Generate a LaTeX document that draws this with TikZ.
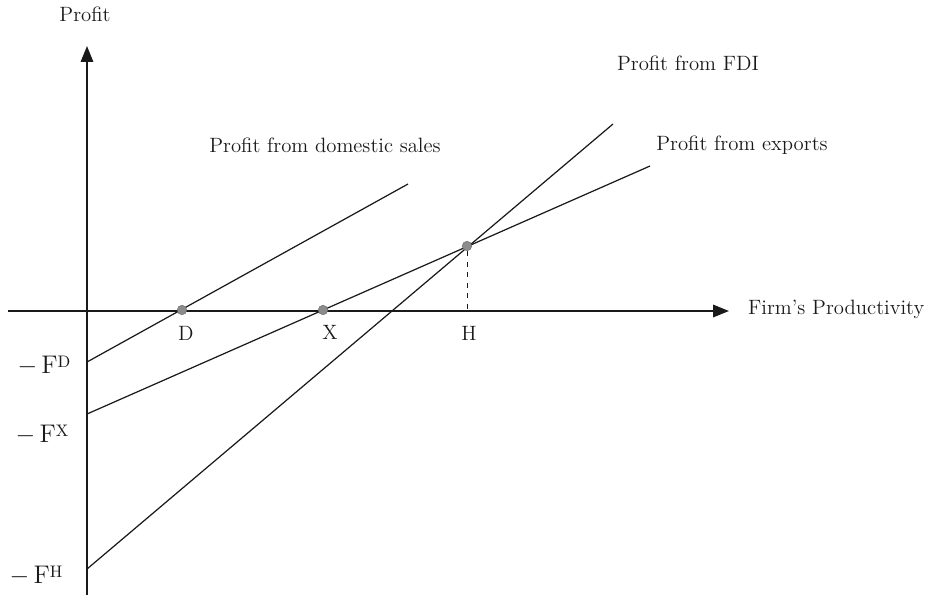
\documentclass[tikz,border=0pt]{standalone}
\usepackage{tikz}
\usetikzlibrary{positioning, arrows.meta}
\definecolor{pInk}{HTML}{1A1A1A}
\definecolor{pDot}{HTML}{8C8C8C}
\newcommand{\negF}[1]{$-$\,F{\fontsize{9.5}{10}\selectfont\raisebox{3.6pt}{#1}}}
\tikzset{
  axis/.style={line width=1.1pt, draw=pInk, -{Triangle[length=9pt,width=7pt]}},
  curve/.style={line width=0.7pt, draw=pInk},
  dotpt/.style={circle, fill=pDot, draw=pDot!80!black, line width=0.3pt, minimum size=0.19cm, inner sep=0pt},
  lbl/.style={font=\fontsize{11.8}{14}\selectfont, text=pInk, inner sep=1pt},
  flbl/.style={font=\fontsize{14.5}{16}\selectfont, text=pInk, inner sep=1pt},
}

\begin{document}
\begin{tikzpicture}[x=0.2mm, y=-0.2mm]
        \useasboundingbox (0,0) rectangle (927,595);
        % axes
        \coordinate (o) at (87,311);
        \coordinate (ybot) at (87,595);
        \coordinate (ytop) at (87,46);
        \coordinate (xleft) at (8,311);
        \coordinate (xright) at (729,311);
        \draw[axis] (ybot) -- (ytop);
        \draw[axis] (xleft) -- (xright);
        \node[lbl] (ylab) at (85,14) {Profit};
        \node[lbl, anchor=west] (xlab) at (746,309) {Firm's Productivity};
        % intercepts
        \coordinate (fd) at (87,362);
        \coordinate (fx) at (87,414);
        \coordinate (fh) at (87,569);
        \node[flbl] (fdlab) at (44,366) {\negF{D}};
        \node[flbl] (fxlab) at (42,435) {\negF{X}};
        \node[flbl] (fhlab) at (36,576) {\negF{H}};
        % profit lines
        \coordinate (dend) at (408,184);
        \coordinate (xend) at (650,166);
        \coordinate (hend) at (613,124);
        \draw[curve] (fd) -- (dend);
        \draw[curve] (fx) -- (xend);
        \draw[curve] (fh) -- (hend);
        % cutoffs
        \node[dotpt] (d) at (182,310) {};
        \node[dotpt] (x) at (323,310) {};
        \node[dotpt] (h) at (467,246) {};
        \coordinate (hfoot) at (467,311);
        \draw[dashed, line width=0.5pt, pInk] (h) -- (hfoot);
        \node[lbl] (dlab) at (186,333) {D};
        \node[lbl] (xlab2) at (330,332) {X};
        \node[lbl] (hlab) at (469,333) {H};
        % line labels
        \node[lbl] (domlab) at (325,145) {Profit from domestic sales};
        \node[lbl] (explab) at (742,145) {Profit from exports};
        \node[lbl] (fdilab) at (688,63) {Profit from FDI};
      \end{tikzpicture}
\end{document}
